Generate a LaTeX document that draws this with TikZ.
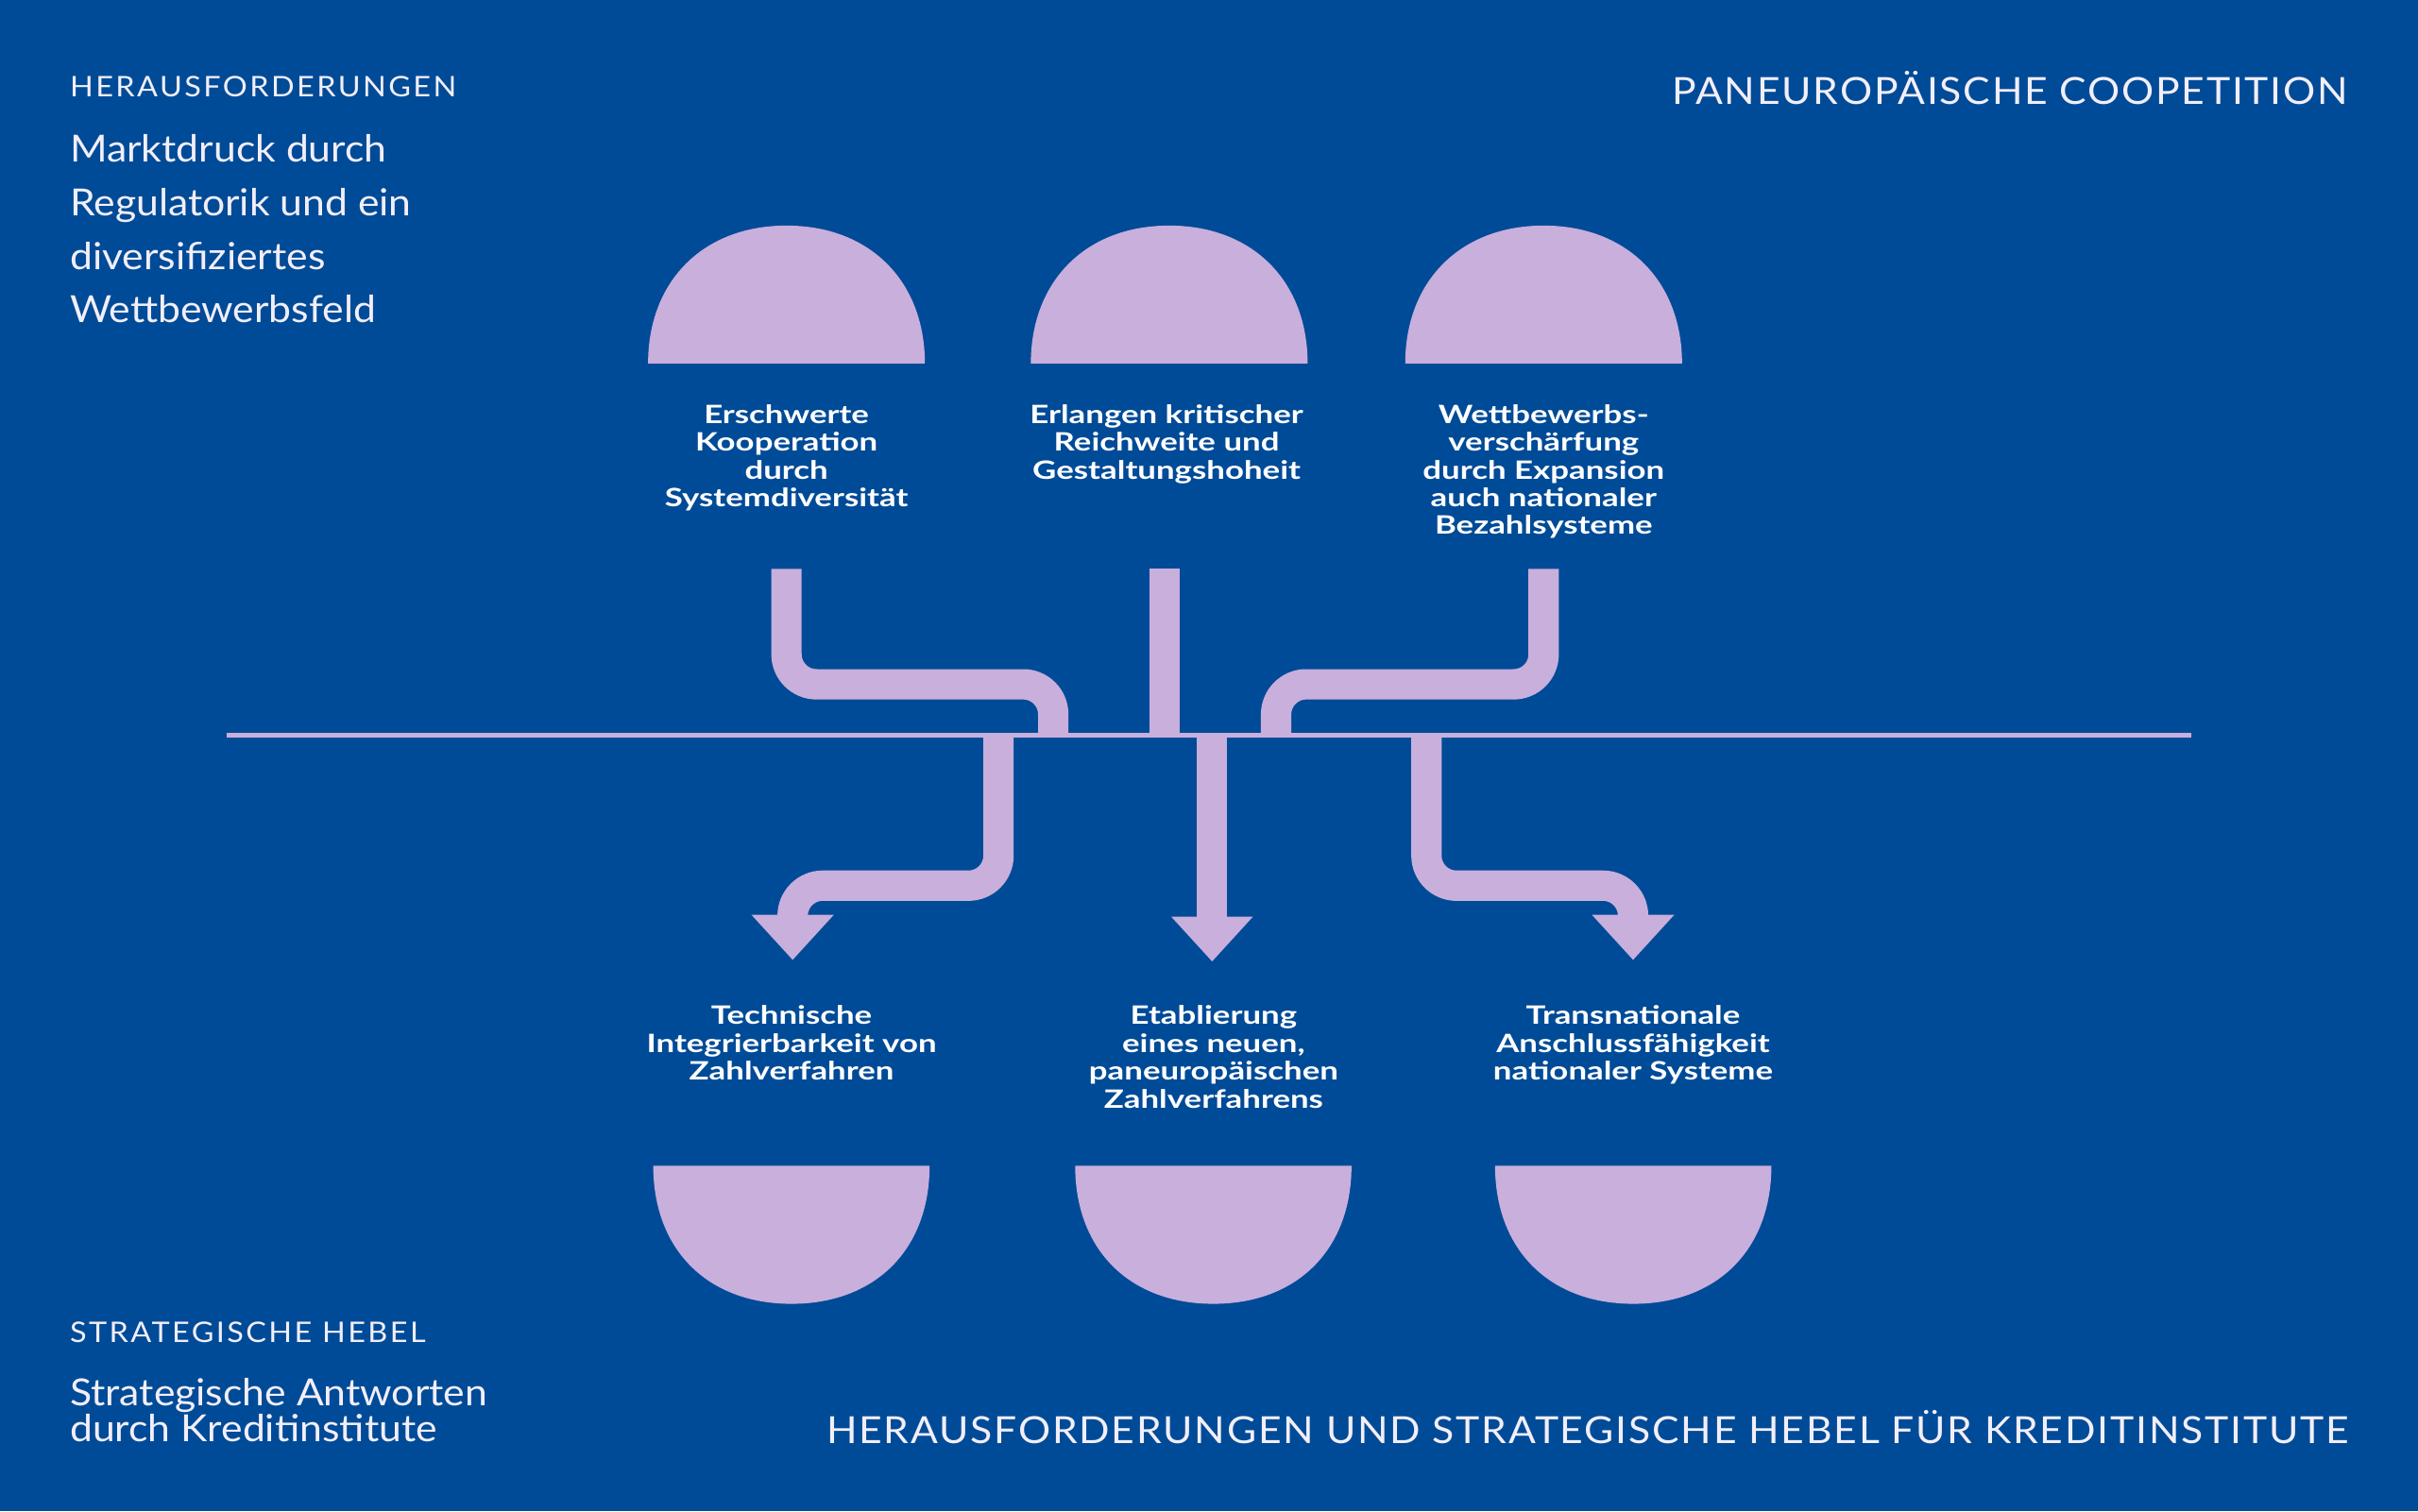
\documentclass[tikz,border=0pt]{standalone}
\usepackage{fontspec}
\setmainfont{Lato}
\newfontfamily\bodyf{Lato}[FakeStretch=1.08]
\newfontfamily\capsaf{Lato}[FakeStretch=1.08,LetterSpace=8]
\newfontfamily\capsbf{Lato}[FakeStretch=1.08,LetterSpace=4.5]
\newfontfamily\labf{Lato}[FakeStretch=1.3]
\definecolor{bg}{RGB}{0,75,151}
\definecolor{lilac}{RGB}{200,175,220}
\definecolor{txt}{RGB}{242,238,248}
\begin{document}
\begin{tikzpicture}[x=0.5pt,y=-0.5pt,
  capsA/.style={font=\capsaf\fontsize{9.2}{11}\selectfont, text=txt, inner sep=0pt},
  capsB/.style={font=\capsbf\fontsize{12.1}{14}\selectfont, text=txt, inner sep=0pt},
  body/.style={font=\bodyf\fontsize{12.1}{17.35}\selectfont, text=txt, inner sep=0pt, align=left},
  bodyB/.style={font=\bodyf\fontsize{12.1}{11.75}\selectfont, text=txt, inner sep=0pt, align=left},
  lab/.style={font=\labf\bfseries\fontsize{8.2}{9}\selectfont, text=white, inner sep=0pt, align=center},
  pipe/.style={draw=lilac, line width=9.85pt, rounded corners=9.75pt},
  head/.style={fill=lilac},
  axis/.style={draw=lilac, line width=1.6pt},
  domeup/.pic={\fill[lilac] (-89.75,0) .. controls (-89.75,-53.7) and (-53.85,-89.5) .. (0,-89.5) .. controls (53.85,-89.5) and (89.75,-53.7) .. (89.75,0) -- cycle;},
  domedown/.pic={\fill[lilac] (-89.6,0) .. controls (-89.6,55) and (-53.8,89.6) .. (0,89.6) .. controls (53.8,89.6) and (89.6,55) .. (89.6,0) -- cycle;}]
\useasboundingbox (0,0) rectangle (1568,980);
\fill[bg] (0,0) rectangle (1568,980);

% headings (anchor base = baseline of the last line)
\node[capsA, anchor=base west] (h1) at (45,63) {HERAUSFORDERUNGEN};
\node[body, anchor=base west] (h2) at (45,209.3) {Marktdruck durch\\Regulatorik und ein\\diversifiziertes\\Wettbewerbsfeld};
\node[capsB, anchor=base east] (h3) at (1523,67.8) {PANEUROPÄISCHE COOPETITION};
\node[capsA, anchor=base west] (s1) at (45,870.7) {STRATEGISCHE HEBEL};
\node[bodyB, anchor=base west] (s2) at (45,935) {Strategische Antworten\\durch Kreditinstitute};
\node[capsB, anchor=base east] (s3) at (1523,936) {HERAUSFORDERUNGEN UND STRATEGISCHE HEBEL FÜR KREDITINSTITUTE};

% domes
\pic at (510,235.8) {domeup};
\pic at (758.2,235.8) {domeup};
\pic at (1001,235.8) {domeup};
\pic at (513.2,756) {domedown};
\pic at (786.8,756) {domedown};
\pic at (1059.1,756) {domedown};

% labels
\node[lab, anchor=base] (t1) at (510,328.6) {Erschwerte\\Kooperation\\durch\\Systemdiversität};
\node[lab, anchor=base] (t2) at (756.5,310.6) {Erlangen kritischer\\Reichweite und\\Gestaltungshoheit};
\node[lab, anchor=base] (t3) at (1001,346.6) {Wettbewerbs-\\verschärfung\\durch Expansion\\auch nationaler\\Bezahlsysteme};
\node[lab, anchor=base] (b1) at (513.3,700.5) {Technische\\Integrierbarkeit von\\Zahlverfahren};
\node[lab, anchor=base] (b2) at (787,718.5) {Etablierung\\eines neuen,\\paneuropäischen\\Zahlverfahrens};
\node[lab, anchor=base] (b3) at (1059,700.5) {Transnationale\\Anschlussfähigkeit\\nationaler Systeme};

% axis
\coordinate (axL) at (147,477);
\coordinate (axR) at (1421,477);
\draw[axis] (axL) -- (axR);

% pipe end points
\coordinate (u1) at (510,369);   \coordinate (v1) at (683,477);
\coordinate (u2) at (755,369);   \coordinate (v2) at (755,477);
\coordinate (u3) at (1001,369);  \coordinate (v3) at (827.5,477);
\coordinate (d1) at (647.5,478.5); \coordinate (e1) at (514,600);
\coordinate (d2) at (786,478.5);   \coordinate (e2) at (786,600);
\coordinate (d3) at (925,478.5);   \coordinate (e3) at (1059,600);

\draw[pipe] (u1) |- (596.5,443.8) -| (v1);
\draw[pipe] (u2) -- (v2);
\draw[pipe] (u3) |- (914.25,443.8) -| (v3);
\draw[pipe] (d1) |- (580.75,574.4) -| (e1);
\draw[pipe] (d2) -- (e2);
\draw[pipe] (d3) |- (992,574.4) -| (e3);

% arrow heads
\fill[head] (487.3,593.3) -- (540.7,593.3) -- (514,622.5) -- cycle;
\fill[head] (759.5,594.5) -- (812.5,594.5) -- (786,623.5) -- cycle;
\fill[head] (1032.3,593.3) -- (1085.7,593.3) -- (1059,622.5) -- cycle;
\end{tikzpicture}
\end{document}
